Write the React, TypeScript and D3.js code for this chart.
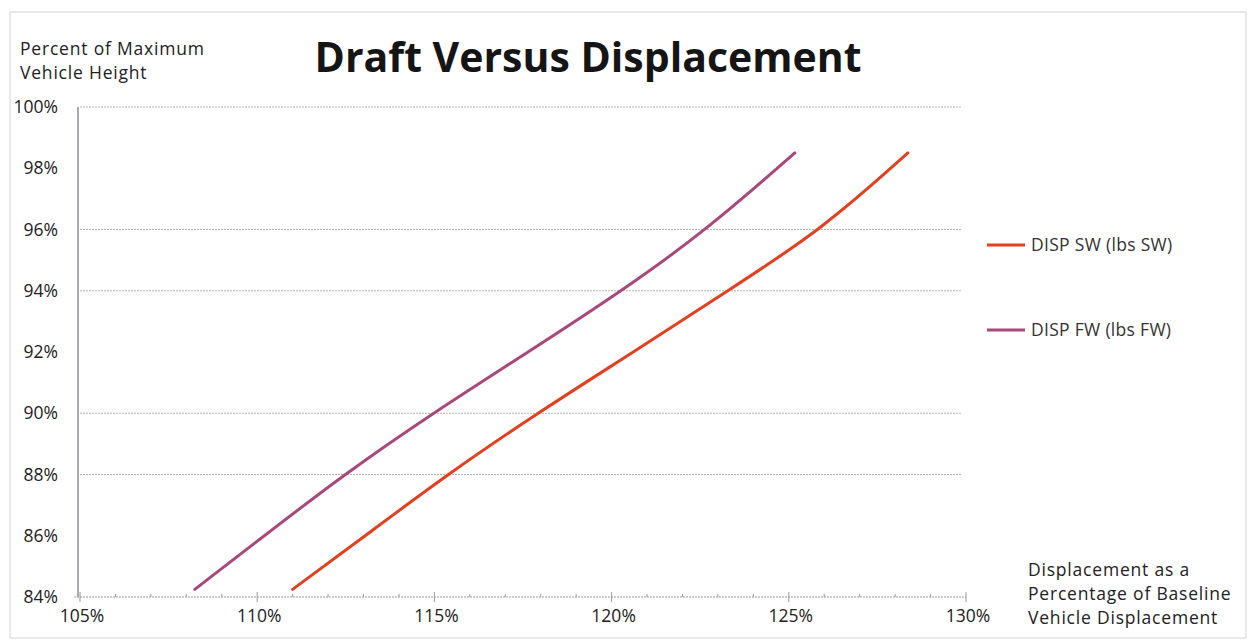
import React from 'react';
import * as d3 from 'd3';

// ---- data ----
const seriesNames = ['DISP SW (lbs SW)', 'DISP FW (lbs FW)'];
const swX = [111.0, 113.05, 115.36, 117.9, 120.62, 123.28, 125.94, 128.36];
const swY = [84.25, 86, 88, 90, 92, 94, 96, 98.5];
const fwX = [108.24, 110.2, 112.45, 114.95, 117.65, 120.3, 122.7, 125.17];
const fwY = [84.25, 86, 88, 90, 92, 94, 96, 98.5];
const xTicks = [105, 110, 115, 120, 125, 130];
const xMinorTicks = d3.range(105, 131, 1);
const yTicks = [84, 86, 88, 90, 92, 94, 96, 98, 100];
const gridValues = [88, 90, 94, 96, 100];

const W = 1250;
const H = 644;
const FONT = '"Open Sans", sans-serif';
const SW_COLOR = '#e2401f';
const FW_COLOR = '#a8497d';

export default function App() {
  const x = d3.scaleLinear().domain([105, 130]).range([80, 966]);
  const y = d3.scaleLinear().domain([84, 100]).range([597, 107]);
  const line = d3
    .line<[number, number]>()
    .x((d) => x(d[0]))
    .y((d) => y(d[1]))
    .curve(d3.curveBasis);
  const sw: [number, number][] = swX.map((v, i) => [v, swY[i]]);
  const fw: [number, number][] = fwX.map((v, i) => [v, fwY[i]]);
  const x0 = x(105);
  const x1 = x(130);

  return (
    <svg
      width={W}
      height={H}
      style={{ position: 'absolute', left: 0, top: 0, background: '#fff' }}
      fontFamily={FONT}
    >
      <rect x={10} y={12} width={1236} height={626} fill="#fff" stroke="#d4d4d4" strokeWidth={1} />

      {/* title */}
      <text x={588} y={72} textAnchor="middle" fontSize={41} fontWeight="bold" fill="#151515">
        Draft Versus Displacement
      </text>

      {/* y axis title */}
      <text x={20} y={55} fontSize={17.5} letterSpacing={0.8} fill="#222">Percent of Maximum</text>
      <text x={20} y={79} fontSize={17.5} letterSpacing={0.8} fill="#222">Vehicle Height</text>

      {/* gridlines */}
      {gridValues.map((g) => (
        <line key={g} x1={x0} x2={962} y1={y(g)} y2={y(g)} stroke="#b4b4b4" strokeWidth={1} strokeDasharray="2,1" />
      ))}

      {/* y axis */}
      <line x1={x0 - 2} x2={x0 - 2} y1={y(100)} y2={y(84)} stroke="#6f6f93" strokeWidth={1.2} />
      {yTicks.map((t) => (
        <text key={t} x={58} y={y(t)} dy="0.35em" textAnchor="end" fontSize={17.5} fill="#222">
          {t}%
        </text>
      ))}

      {/* x axis */}
      <line x1={x0 - 6} x2={x1} y1={y(84)} y2={y(84)} stroke="#999" strokeWidth={1} strokeDasharray="2,1" />
      {xMinorTicks.map((t) => (
        <line
          key={t}
          x1={x(t)}
          x2={x(t)}
          y1={y(84) - (t % 5 === 0 ? 5 : 3)}
          y2={y(84) + (t % 5 === 0 ? 5 : 0)}
          stroke="#999"
          strokeWidth={1}
        />
      ))}
      {xTicks.map((t) => (
        <text key={t} x={x(t) + 2} y={622} textAnchor="middle" fontSize={17.5} fill="#222">
          {t}%
        </text>
      ))}

      {/* x axis title */}
      <text x={1028} y={576} fontSize={17.5} letterSpacing={0.8} fill="#222">Displacement as a</text>
      <text x={1028} y={600} fontSize={17.5} letterSpacing={0.8} fill="#222">Percentage of Baseline</text>
      <text x={1028} y={624} fontSize={17.5} letterSpacing={0.8} fill="#222">Vehicle Displacement</text>

      {/* series */}
      <path d={line(fw) || ''} fill="none" stroke={FW_COLOR} strokeWidth={3} strokeLinecap="round" />
      <path d={line(sw) || ''} fill="none" stroke={SW_COLOR} strokeWidth={3} strokeLinecap="round" />

      {/* legend */}
      <line x1={987} x2={1025} y1={245} y2={245} stroke={SW_COLOR} strokeWidth={3} />
      <text x={1031} y={245} dy="0.35em" fontSize={17.5} letterSpacing={0.3} fill="#333">{seriesNames[0]}</text>
      <line x1={987} x2={1025} y1={330} y2={330} stroke={FW_COLOR} strokeWidth={3} />
      <text x={1031} y={330} dy="0.35em" fontSize={17.5} letterSpacing={0.3} fill="#333">{seriesNames[1]}</text>
    </svg>
  );
}
